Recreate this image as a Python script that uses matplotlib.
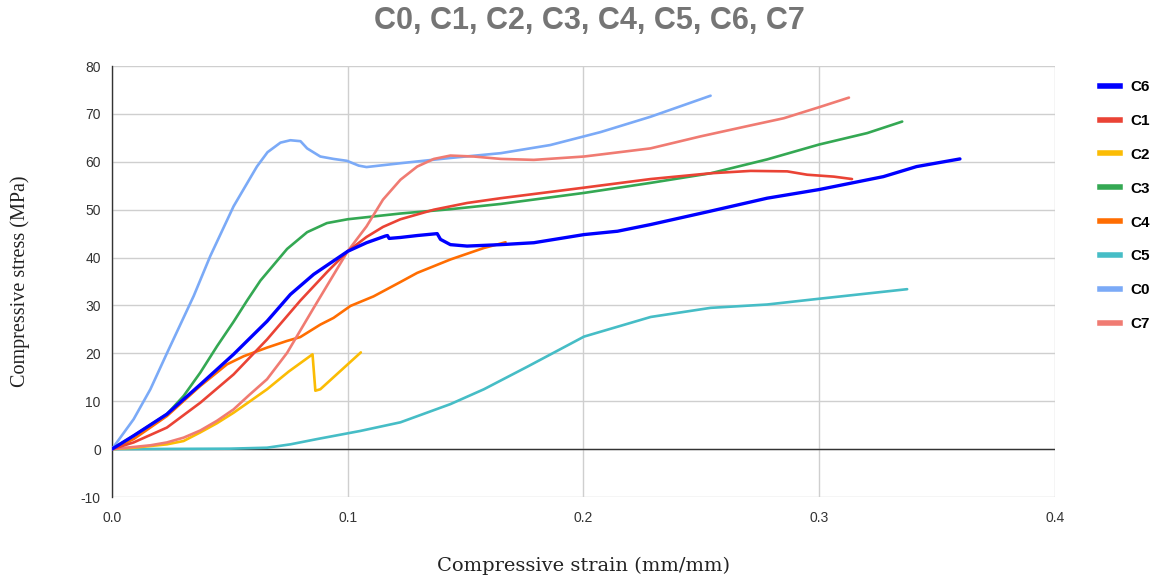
import matplotlib
matplotlib.use("Agg")
import matplotlib.pyplot as plt
from matplotlib.lines import Line2D

# strain (mm/mm) / stress (MPa) pairs for each specimen
c6_strain = [0.0, 0.0092, 0.0233, 0.0375, 0.0516, 0.0658, 0.0757, 0.0856, 0.094, 0.1, 0.108,
             0.116, 0.1169, 0.1176, 0.1224, 0.1295, 0.138, 0.1394, 0.1436, 0.1507, 0.165,
             0.179, 0.2003, 0.2145, 0.2286, 0.254, 0.278, 0.3, 0.3273, 0.3414, 0.3598]
c6_stress = [0.0, 2.8, 7.3, 13.5, 19.8, 26.7, 32.3, 36.5, 39.3, 41.3, 43.1,
             44.5, 44.6, 44.0, 44.2, 44.6, 45.0, 43.8, 42.7, 42.4, 42.7,
             43.1, 44.8, 45.5, 46.9, 49.7, 52.4, 54.2, 56.9, 59.0, 60.6]

c1_strain = [0.0, 0.0092, 0.0233, 0.0375, 0.0516, 0.0658, 0.0799, 0.0913, 0.1, 0.108, 0.115,
             0.1224, 0.1366, 0.1507, 0.165, 0.2003, 0.2286, 0.254, 0.271, 0.2865, 0.295,
             0.3063, 0.314]
c1_stress = [0.0, 1.4, 4.5, 9.7, 15.6, 22.9, 31.0, 37.0, 41.3, 44.3, 46.4,
             48.0, 50.0, 51.4, 52.4, 54.6, 56.4, 57.6, 58.1, 58.0, 57.3,
             56.9, 56.4]

c2_strain = [0.0, 0.0092, 0.0233, 0.0304, 0.0375, 0.0445, 0.0516, 0.058, 0.0658, 0.075,
             0.0851, 0.0863, 0.0884, 0.1056]
c2_stress = [0.0, 0.3, 1.0, 1.7, 3.5, 5.4, 7.6, 9.8, 12.5, 16.2,
             19.8, 12.2, 12.5, 20.2]

c3_strain = [0.0, 0.0092, 0.0233, 0.0304, 0.0375, 0.0446, 0.0516, 0.0573, 0.063, 0.0743,
             0.0828, 0.0912, 0.1, 0.1224, 0.1436, 0.165, 0.2003, 0.2286, 0.254, 0.278,
             0.3, 0.3205, 0.3353]
c3_stress = [0.0, 2.8, 7.3, 11.1, 16.0, 21.5, 26.6, 31.0, 35.2, 41.8,
             45.3, 47.2, 48.0, 49.2, 50.1, 51.2, 53.5, 55.6, 57.6, 60.5,
             63.6, 66.0, 68.4]

c4_strain = [0.0, 0.0092, 0.0233, 0.0375, 0.0488, 0.0559, 0.0658, 0.0743, 0.0799, 0.0884,
             0.094, 0.1012, 0.111, 0.1224, 0.1295, 0.1436, 0.1578, 0.167]
c4_stress = [0.0, 2.1, 6.9, 13.2, 17.7, 19.4, 21.2, 22.6, 23.4, 26.0,
             27.4, 29.9, 31.9, 34.9, 36.8, 39.6, 42.0, 43.2]

c5_strain = [0.0, 0.05, 0.0658, 0.0757, 0.087, 0.1054, 0.1224, 0.1436, 0.1578, 0.1762,
             0.2003, 0.2286, 0.254, 0.278, 0.3, 0.3374]
c5_stress = [0.0, 0.1, 0.3, 1.0, 2.1, 3.8, 5.6, 9.4, 12.5, 17.2,
             23.5, 27.6, 29.5, 30.2, 31.4, 33.4]

c0_strain = [0.0, 0.0092, 0.0163, 0.0233, 0.0347, 0.0417, 0.0516, 0.0615, 0.066, 0.0715,
             0.0757, 0.08, 0.0828, 0.0884, 0.094, 0.0997, 0.1047, 0.108, 0.1224, 0.1436,
             0.165, 0.186, 0.2073, 0.2285, 0.254]
c0_stress = [0.0, 6.25, 12.5, 20.0, 32.0, 40.3, 50.7, 59.0, 62.0, 64.0,
             64.5, 64.3, 62.8, 61.1, 60.6, 60.2, 59.2, 58.9, 59.7, 60.8,
             61.8, 63.5, 66.2, 69.4, 73.8]

c7_strain = [0.0, 0.0163, 0.0233, 0.0304, 0.0375, 0.0445, 0.0516, 0.058, 0.0658, 0.0743,
             0.0856, 0.1, 0.108, 0.115, 0.1224, 0.1295, 0.1366, 0.1436, 0.1535, 0.165,
             0.179, 0.2003, 0.2285, 0.2497, 0.271, 0.2851, 0.3007, 0.3127]
c7_stress = [0.0, 0.8, 1.4, 2.4, 3.9, 5.9, 8.3, 11.2, 14.6, 20.1,
             29.5, 41.3, 46.5, 52.1, 56.25, 59.0, 60.6, 61.3, 61.1, 60.6,
             60.4, 61.1, 62.8, 65.3, 67.6, 69.1, 71.5, 73.4]

series = [
    ("C6", c6_strain, c6_stress, "#0000ff"),
    ("C1", c1_strain, c1_stress, "#ea4335"),
    ("C2", c2_strain, c2_stress, "#fbbc04"),
    ("C3", c3_strain, c3_stress, "#34a853"),
    ("C4", c4_strain, c4_stress, "#ff6d01"),
    ("C5", c5_strain, c5_stress, "#46bdc6"),
    ("C0", c0_strain, c0_stress, "#7baaf7"),
    ("C7", c7_strain, c7_stress, "#f07b72"),
]
draw_order = ["C5", "C2", "C4", "C3", "C0", "C7", "C1", "C6"]

x_ticks = [0.0, 0.1, 0.2, 0.3, 0.4]
y_ticks = [-10, 0, 10, 20, 30, 40, 50, 60, 70, 80]

fig = plt.figure(figsize=(11.59, 5.77), dpi=100)
ax = fig.add_axes([0.0966, 0.1386, 0.8134, 0.7470])

lookup = {name: (xs, ys, col) for name, xs, ys, col in series}
for z, name in enumerate(draw_order):
    xs, ys, col = lookup[name]
    lw = 2.4 if name == "C6" else 1.9
    ax.plot(xs, ys, color=col, linewidth=lw, solid_capstyle="round",
            solid_joinstyle="round", zorder=3 + z)

ax.axhline(0, color="#333333", linewidth=1.0, zorder=2)

ax.set_xlim(0, 0.4)
ax.set_ylim(-10, 80)
ax.set_xticks(x_ticks)
ax.set_yticks(y_ticks)
ax.set_xticklabels([f"{t:.1f}" for t in x_ticks])
ax.set_yticklabels([str(t) for t in y_ticks])
ax.tick_params(axis="y", length=0, labelsize=10, labelcolor="#333333", pad=8)
ax.tick_params(axis="x", length=0, labelsize=10, labelcolor="#333333", pad=10)
for lbl in ax.get_xticklabels() + ax.get_yticklabels():
    lbl.set_family("Liberation Sans")

ax.grid(True, color="#cfcfcf", linewidth=1.0, zorder=0)
ax.set_axisbelow(True)
for side in ["top", "right", "bottom"]:
    ax.spines[side].set_visible(False)
ax.spines["left"].set_color("#333333")
ax.spines["left"].set_linewidth(1.0)

ax.set_xlabel("Compressive strain (mm/mm)", family="DejaVu Serif",
              fontsize=14, color="#222222")
ax.xaxis.set_label_coords(0.5, -0.160)
ax.xaxis.label.set_verticalalignment("center")
ax.set_ylabel("Compressive stress (MPa)", family="Liberation Serif",
              fontsize=14.5, color="#222222")
ax.yaxis.set_label_coords(-0.0976, 0.5)
ax.yaxis.label.set_verticalalignment("center")

fig.suptitle("C0, C1, C2, C3, C4, C5, C6, C7", x=0.509, y=0.964, va="center",
             family="Liberation Sans", fontweight="bold",
             fontsize=22, color="#757575")

handles = [Line2D([0], [0], color=col, linewidth=4) for _, _, _, col in series]
labels = [name for name, _, _, _ in series]
fig.legend(handles, labels, loc="upper left", bbox_to_anchor=(0.937, 0.885),
           frameon=False, handlelength=1.3, handletextpad=0.7,
           labelspacing=1.3, prop={"family": "Liberation Sans", "weight": "bold", "size": 11})

fig.savefig("out.png", dpi=100)
